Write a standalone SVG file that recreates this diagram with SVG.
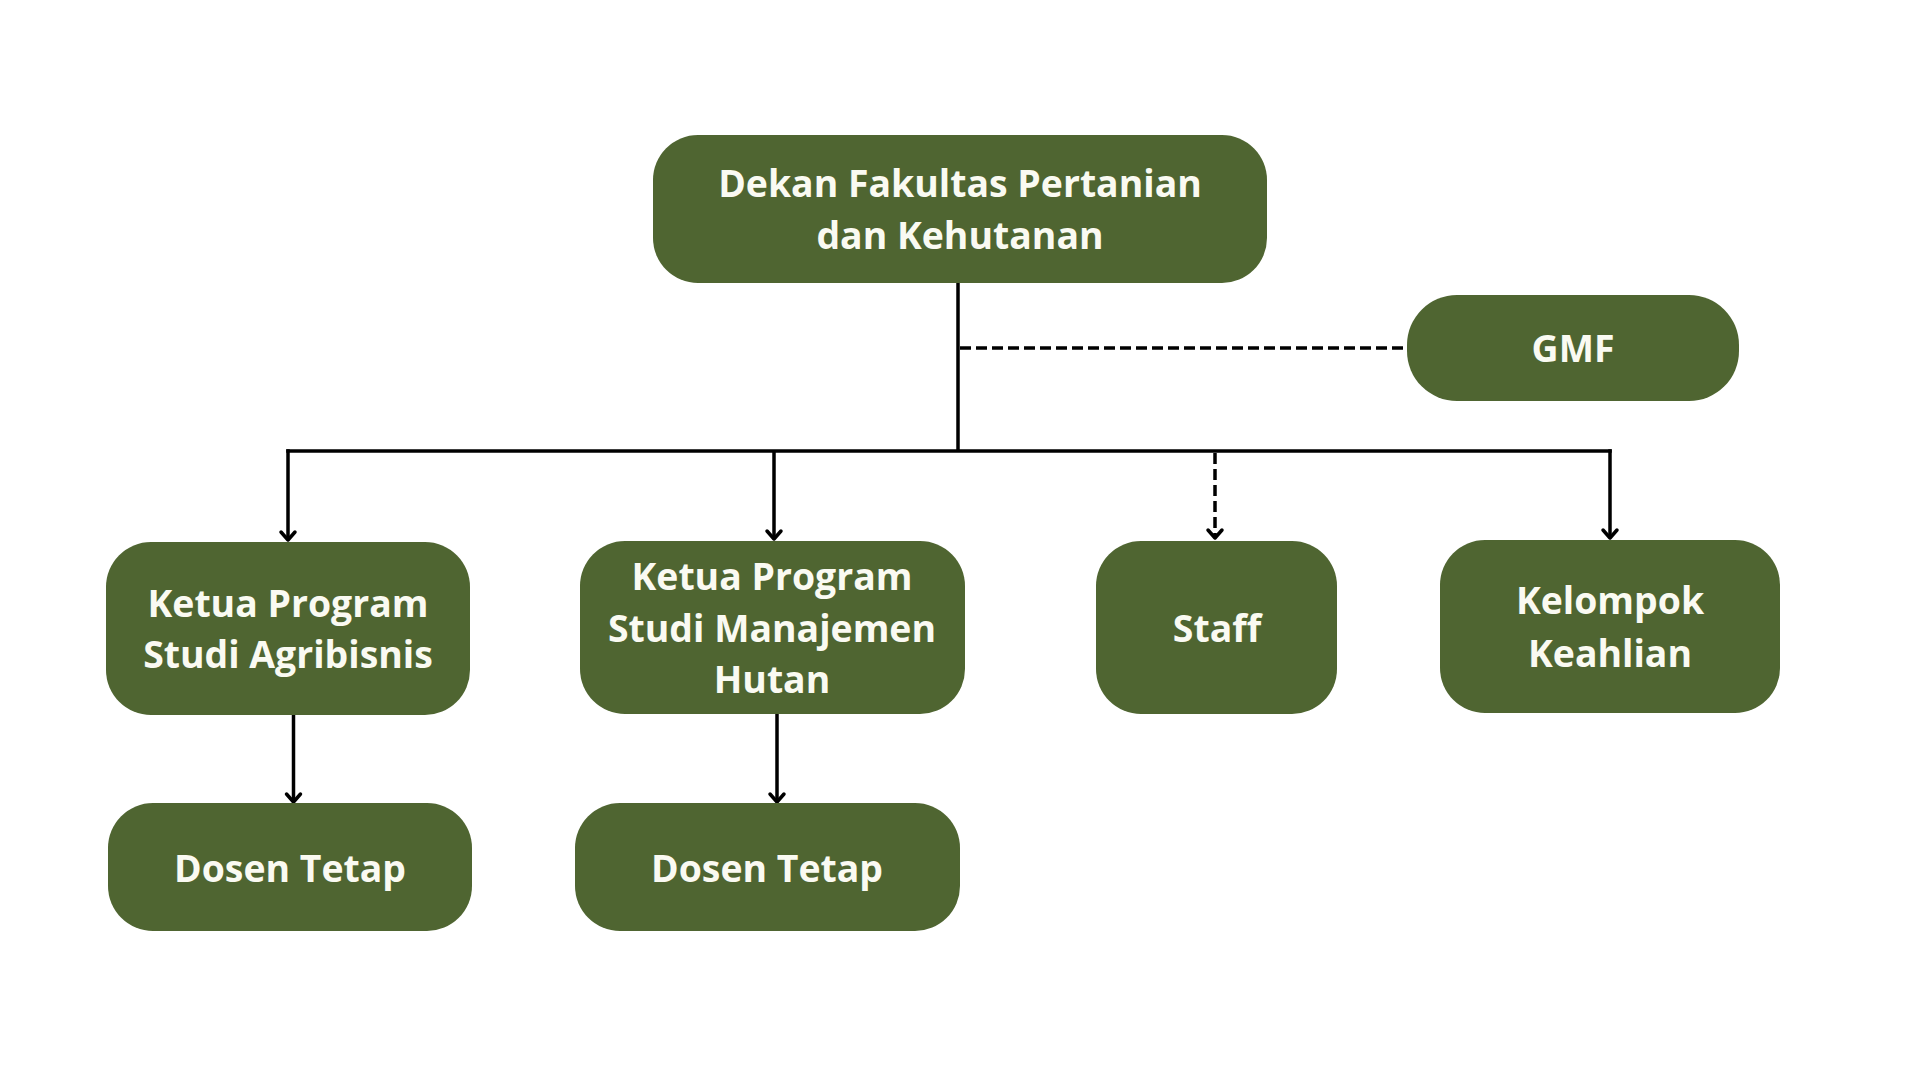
<svg xmlns="http://www.w3.org/2000/svg" width="1920" height="1080" viewBox="0 0 1920 1080">
<defs>
<style>
.box{fill:#4f6531}
.lbl{font-family:"Open Sans","Noto Sans","Liberation Sans",sans-serif;font-weight:700;font-size:37.4px;fill:#fafaf2;text-anchor:middle}
.ln{stroke:#000;stroke-width:3.5;fill:none}
.dash{stroke-dasharray:11 5}
</style>
<marker id="arr" markerUnits="userSpaceOnUse" viewBox="-12 -10 14 20" refX="0" refY="0" markerWidth="14" markerHeight="20" orient="auto" overflow="visible">
<path d="M-8,-7 L0,0 L-8,7" fill="none" stroke="#000" stroke-width="3.5" stroke-linecap="round" stroke-linejoin="round"/>
</marker>
</defs>
<rect width="1920" height="1080" fill="#ffffff"/>
<g id="connectors">
<line class="ln" x1="958" y1="283" x2="958" y2="451"/>
<line class="ln dash" x1="960" y1="348" x2="1407" y2="348"/>
<line class="ln" x1="286.25" y1="451" x2="1611.75" y2="451"/>
<line class="ln" x1="288" y1="449.25" x2="288" y2="540" marker-end="url(#arr)"/>
<line class="ln" x1="774" y1="451" x2="774" y2="539" marker-end="url(#arr)"/>
<line class="ln dash" x1="1215" y1="453" x2="1215" y2="538" marker-end="url(#arr)"/>
<line class="ln" x1="1610" y1="449.25" x2="1610" y2="538" marker-end="url(#arr)"/>
<line class="ln" x1="293.5" y1="714" x2="293.5" y2="802" marker-end="url(#arr)"/>
<line class="ln" x1="777" y1="714" x2="777" y2="802" marker-end="url(#arr)"/>
</g>
<g id="dekan">
<rect class="box" x="653" y="135" width="614" height="148" rx="45"/>
<text class="lbl" x="960" y="197">Dekan Fakultas Pertanian</text>
<text class="lbl" x="960" y="249">dan Kehutanan</text>
</g>
<g id="gmf">
<rect class="box" x="1407" y="295" width="332" height="106" rx="50"/>
<text class="lbl" x="1573" y="362">GMF</text>
</g>
<g id="kps-agribisnis">
<rect class="box" x="106" y="542" width="364" height="173" rx="45"/>
<text class="lbl" x="288" y="617">Ketua Program</text>
<text class="lbl" x="288" y="668">Studi Agribisnis</text>
</g>
<g id="kps-manajemen-hutan">
<rect class="box" x="580" y="541" width="385" height="173" rx="45"/>
<text class="lbl" x="772" y="590">Ketua Program</text>
<text class="lbl" x="772" y="642">Studi Manajemen</text>
<text class="lbl" x="772" y="693">Hutan</text>
</g>
<g id="staff">
<rect class="box" x="1096" y="541" width="241" height="173" rx="45"/>
<text class="lbl" x="1217" y="642">Staff</text>
</g>
<g id="kelompok-keahlian">
<rect class="box" x="1440" y="540" width="340" height="173" rx="45"/>
<text class="lbl" x="1610" y="614">Kelompok</text>
<text class="lbl" x="1610" y="667">Keahlian</text>
</g>
<g id="dosen-tetap-1">
<rect class="box" x="108" y="803" width="364" height="128" rx="45"/>
<text class="lbl" x="290" y="882">Dosen Tetap</text>
</g>
<g id="dosen-tetap-2">
<rect class="box" x="575" y="803" width="385" height="128" rx="45"/>
<text class="lbl" x="767" y="882">Dosen Tetap</text>
</g>
</svg>
